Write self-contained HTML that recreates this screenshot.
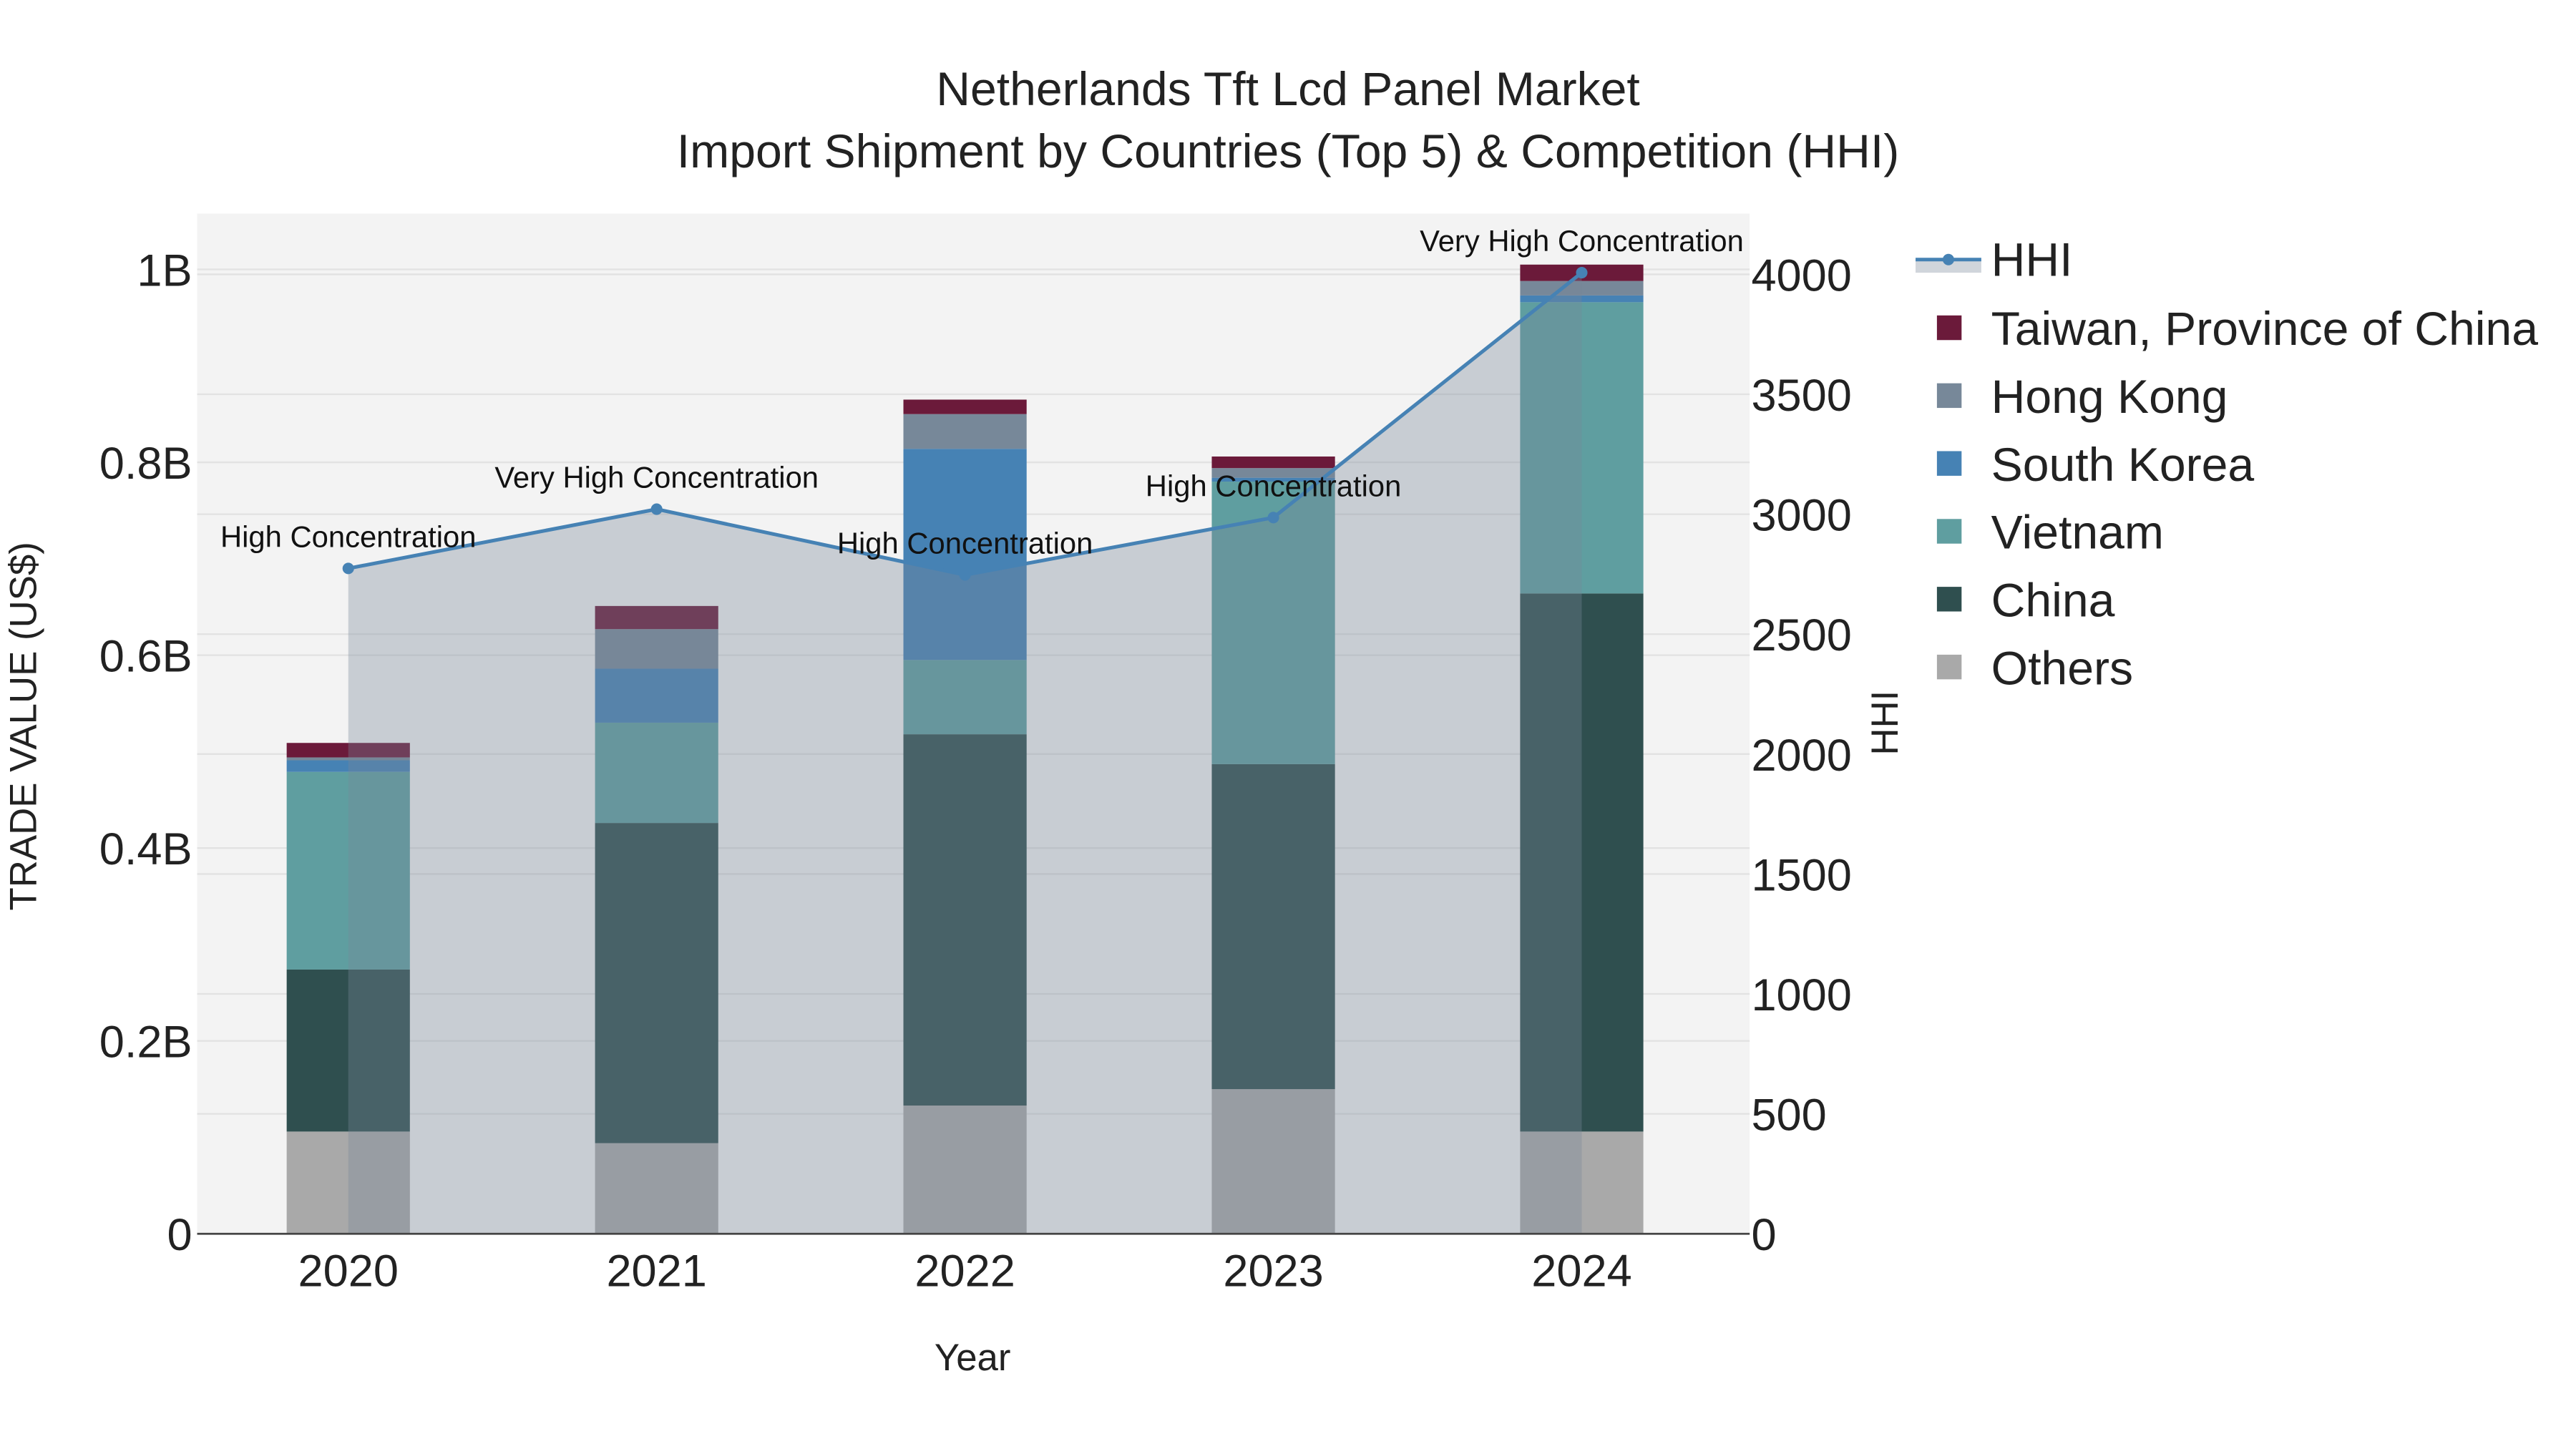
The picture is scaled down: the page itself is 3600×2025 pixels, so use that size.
<!DOCTYPE html>
<html><head><meta charset="utf-8"><style>
html,body{margin:0;padding:0;background:#fff}
svg{display:block;font-family:"Liberation Sans",Arial,sans-serif}
</style></head><body>
<svg id="chart" width="3600" height="2025" viewBox="0 0 1568 882">
<rect x="0" y="0" width="1568" height="882" fill="#fff"/>
<rect x="120" y="130" width="945" height="621" fill="#f3f3f3"/>
<g id="grid"></g><g id="bars"></g><g id="hhi"></g><g id="axes"></g><g id="legend"></g>
<text x="784" y="64" text-anchor="middle" font-size="28.8" fill="#222">Netherlands Tft Lcd Panel Market</text>
<text x="784" y="102" text-anchor="middle" font-size="28.8" fill="#222">Import Shipment by Countries (Top 5) &amp; Competition (HHI)</text>
<text x="592" y="834" text-anchor="middle" font-size="23" fill="#222">Year</text>
<text transform="translate(22,442) rotate(-90)" text-anchor="middle" font-size="23" fill="#222">TRADE VALUE (US$)</text>
<text transform="translate(1155,440) rotate(-90)" text-anchor="middle" font-size="23" fill="#222">HHI</text>
</svg>
<script>
const years=["2020","2021","2022","2023","2024"];
const others=[0.106,0.094,0.133,0.150,0.106];
const china=[0.168,0.332,0.385,0.337,0.558];
const vietnam=[0.205,0.104,0.077,0.293,0.302];
const southKorea=[0.012,0.056,0.219,0.004,0.007];
const hongKong=[0.003,0.041,0.036,0.010,0.015];
const taiwan=[0.015,0.024,0.015,0.012,0.017];
const hhi=[2774,3021,2747,2986,4007];
const hhiLabels=["High Concentration","Very High Concentration","High Concentration","High Concentration","Very High Concentration"];
const yTicks=[0,0.2,0.4,0.6,0.8,1.0];
const yTickLabels=["0","0.2B","0.4B","0.6B","0.8B","1B"];
const y2Ticks=[0,500,1000,1500,2000,2500,3000,3500,4000];

const NS="http://www.w3.org/2000/svg";
const X0=212,DX=187.7,BW=75;
const xs=i=>X0+i*DX;
const yL=v=>751-v*587;
const yR=v=>751-v*(584/4000);
function mk(tag,attrs,parent){const e=document.createElementNS(NS,tag);for(const k in attrs)e.setAttribute(k,attrs[k]);parent.appendChild(e);return e;}
const grid=document.getElementById('grid'),bars=document.getElementById('bars'),hg=document.getElementById('hhi'),ax=document.getElementById('axes'),lg=document.getElementById('legend');
yTicks.forEach((t,i)=>{
 const l=mk('line',{x1:120,x2:1065,y1:yL(t),y2:yL(t),stroke:'#e2e2e2','stroke-width':1},grid);
 
 
 const tx=mk('text',{x:117,y:yL(t)+10,'text-anchor':'end','font-size':27.5,fill:'#222'},ax);tx.textContent=yTickLabels[i];
 
 
});
y2Ticks.forEach(t=>{
 const l=mk('line',{x1:120,x2:1065,y1:yR(t),y2:yR(t),stroke:'#e2e2e2','stroke-width':1},grid);
 
 
 const tx=mk('text',{x:1066,y:yR(t)+10,'font-size':27.5,fill:'#222'},ax);tx.textContent=t;
 
 
});
const series=[["others",others,"#a9a9a9"],["china",china,"#2f4f4f"],["vietnam",vietnam,"#5f9ea0"],["south-korea",southKorea,"#4682b4"],["hong-kong",hongKong,"#778899"],["taiwan",taiwan,"#6b1a3a"]];
years.forEach((yr,i)=>{
 let base=0;
 series.forEach(([n,arr,c])=>{
  const top=base+arr[i];
  const r=mk('rect',{x:xs(i)-BW/2,y:yL(top),width:BW,height:yL(base)-yL(top),fill:c},bars);
  
  
  base=top;
 });
 const tx=mk('text',{x:xs(i),y:783,'text-anchor':'middle','font-size':27.5,fill:'#222'},ax);tx.textContent=yr;
 
 
});
mk('line',{x1:120,x2:1065,y1:751,y2:751,stroke:'#444','stroke-width':1.2},ax);
let pts=hhi.map((v,i)=>xs(i)+','+yR(v)).join(' ');
const area=mk('polygon',{points:xs(0)+','+yR(0)+' '+pts+' '+xs(hhi.length-1)+','+yR(0),fill:'rgba(119,136,153,0.35)'},hg);


const line=mk('polyline',{points:pts,fill:'none',stroke:'#4682b4','stroke-width':2.2},hg);


hhi.forEach((v,i)=>{
 const c=mk('circle',{cx:xs(i),cy:yR(v),r:3.5,fill:'#4682b4'},hg);
 
 
 const t=mk('text',{x:xs(i),y:yR(v)-13,'text-anchor':'middle','font-size':18.2,fill:'#111'},hg);t.textContent=hhiLabels[i];
 
 
});
const lgItems=[["Taiwan, Province of China","#6b1a3a"],["Hong Kong","#778899"],["South Korea","#4682b4"],["Vietnam","#5f9ea0"],["China","#2f4f4f"],["Others","#a9a9a9"]];
mk('rect',{x:1166,y:158,width:40,height:8,fill:'rgba(119,136,153,0.35)'},lg);
mk('line',{x1:1166,x2:1206,y1:158,y2:158,stroke:'#4682b4','stroke-width':2.2},lg);
mk('circle',{cx:1186,cy:158,r:3.5,fill:'#4682b4'},lg);
const ht=mk('text',{x:1212,y:168,'font-size':28.8,fill:'#222'},lg);ht.textContent='HHI';


lgItems.forEach(([n,c],i)=>{
 const y=200+i*41.3;
 const r=mk('rect',{x:1179,y:y-8,width:15,height:15,fill:c},lg);
 
 
 const t=mk('text',{x:1212,y:y+10,'font-size':28.8,fill:'#222'},lg);t.textContent=n;
 
 
});
</script>
</body></html>
